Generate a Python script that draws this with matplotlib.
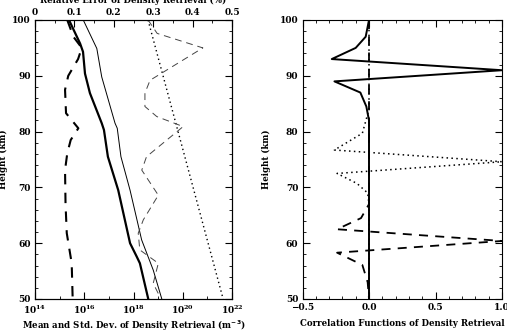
import numpy as np
import matplotlib
matplotlib.use("Agg")
import matplotlib.pyplot as plt
from matplotlib.ticker import MultipleLocator, FixedLocator, NullFormatter

plt.rcParams['font.family'] = 'DejaVu Serif'
plt.rcParams['font.weight'] = 'bold'
plt.rcParams['font.size'] = 6.5

# ---- left panel data (log10 of density, m^-3) ----
h_mean = [100, 95.8, 94.3, 90.4, 86.9, 81.5, 80.3, 75.5, 69.5, 60, 57.6, 56.4, 50]
mean_log = [15.38, 15.83, 15.95, 16.03, 16.23, 16.71, 16.80, 16.96, 17.38, 17.86, 18.13, 18.26, 18.60]

h_true = [100, 94.9, 89.8, 81.5, 80.6, 75.5, 69.5, 60.6, 55.2, 50]
true_log = [15.96, 16.51, 16.71, 17.25, 17.34, 17.49, 17.86, 18.33, 18.80, 19.15]

h_std = [100, 97, 95, 93, 90, 87.5, 83.3, 80.6, 78.5, 76.1, 73.1, 67, 61.8, 56.4, 50]
std_log = [15.31, 15.56, 15.90, 15.75, 15.35, 15.22, 15.26, 15.76, 15.45, 15.31, 15.22, 15.24, 15.29, 15.49, 15.53]

h_apriori = [100, 50]
apriori_log = [18.59, 21.64]

h_relerr = [100, 97.6, 95, 89.2, 86.9, 84.5, 82.7, 80.9, 75.5, 73.1, 68.6, 64.2, 61.8, 58.8, 56.4, 52.8, 50.4]
relerr = [0.287, 0.31, 0.426, 0.292, 0.279, 0.279, 0.309, 0.376, 0.283, 0.271, 0.313, 0.275, 0.262, 0.266, 0.313, 0.300, 0.317]

# ---- right panel data (correlation functions) ----
h_c1 = [100, 97, 95, 93, 91, 89, 87, 84.5, 82, 50]
c1 = [0, -0.025, -0.1, -0.28, 1.0, -0.26, -0.065, -0.02, 0, 0]
h_c2 = [100, 84, 79.7, 76.7, 74.6, 72.5, 70.7, 69, 67, 50]
c2 = [0, 0, -0.05, -0.26, 1.0, -0.24, -0.09, -0.01, 0, 0]
h_c3 = [100, 67, 64.5, 62.5, 60.4, 58.3, 56.1, 53, 50]
c3 = [0, 0, -0.06, -0.24, 1.0, -0.24, -0.05, -0.01, 0]

log_ticks = [1e14, 1e16, 1e18, 1e20, 1e22]
err_ticks = [0, 0.1, 0.2, 0.3, 0.4, 0.5]
err_labels = ['0', '0.1', '0.2', '0.3', '0.4', '0.5']
corr_ticks = [-0.5, 0.0, 0.5, 1.0]
corr_labels = ['\u22120.5', '0.0', '0.5', '1.0']

W, H = 507, 336
fig = plt.figure(figsize=(W / 100, H / 100), dpi=100)

def box(l, r, t, b):
    return [l / W, 1 - b / H, (r - l) / W, (b - t) / H]

def ticks(ax, **kw):
    ax.tick_params(which='both', direction='in', labelsize=6.5, **kw)
    ax.tick_params(which='major', length=5)
    ax.tick_params(which='minor', length=2.5)

def style_y(ax, xlab):
    ax.set_ylim(50, 100)
    ax.yaxis.set_major_locator(MultipleLocator(10))
    ax.yaxis.set_minor_locator(MultipleLocator(2))
    ax.set_ylabel('Height (km)', fontsize=6.2, fontweight='bold')
    ax.yaxis.set_label_coords(xlab, 0.5)

# left panel
ax1 = fig.add_axes(box(35, 232, 20, 299))
ax1.plot(10.0 ** np.array(mean_log), h_mean, color='black', lw=1.6)
ax1.plot(10.0 ** np.array(true_log), h_true, color='black', lw=0.7)
ax1.plot(10.0 ** np.array(std_log), h_std, color='black', lw=1.5, dashes=(5, 4))
ax1.plot(10.0 ** np.array(apriori_log), h_apriori, color='black', lw=1.0, dashes=(1, 2.2))
ax1.set_xscale('log')
ax1.set_xlim(1e14, 1e22)
ax1.xaxis.set_major_locator(FixedLocator(log_ticks))
ax1.xaxis.set_minor_locator(FixedLocator([1e15, 1e17, 1e19, 1e21]))
ax1.xaxis.set_minor_formatter(NullFormatter())
ax1.set_xlabel('Mean and Std. Dev. of Density Retrieval (m$^{\\mathbf{-3}}$)', fontsize=6.2, fontweight='bold')
ax1.xaxis.set_label_coords(0.5, -0.072)
style_y(ax1, -0.135)
ticks(ax1, right=True, top=False, pad=3)

ax1t = ax1.twiny()
ax1t.plot(relerr, h_relerr, color='#444444', lw=0.7, dashes=(7, 5))
ax1t.set_xlim(0, 0.5)
ax1t.xaxis.set_major_locator(FixedLocator(err_ticks))
ax1t.xaxis.set_minor_locator(MultipleLocator(0.05))
ax1t.set_xticklabels(err_labels)
ax1t.set_xlabel('Relative Error of Density Retrieval (%)', fontsize=6.2, fontweight='bold')
ax1t.xaxis.set_label_coords(0.5, 1.062)
ticks(ax1t, pad=2)

# right panel
ax2 = fig.add_axes(box(302.5, 502, 20, 299))
ax2.plot(c1, h_c1, color='black', lw=1.4)
ax2.plot(c2, h_c2, color='black', lw=1.1, dashes=(1, 2.2))
ax2.plot(c3, h_c3, color='black', lw=1.3, dashes=(5, 4))
ax2.set_xlim(-0.5, 1.0)
ax2.xaxis.set_major_locator(FixedLocator(corr_ticks))
ax2.xaxis.set_minor_locator(MultipleLocator(0.1))
ax2.set_xticklabels(corr_labels)
ax2.set_xlabel('Correlation Functions of Density Retrieval', fontsize=6.2, fontweight='bold')
ax2.xaxis.set_label_coords(0.5, -0.072)
style_y(ax2, -0.16)
ticks(ax2, right=True, top=True, pad=3)

fig.savefig('out.png', dpi=100)
